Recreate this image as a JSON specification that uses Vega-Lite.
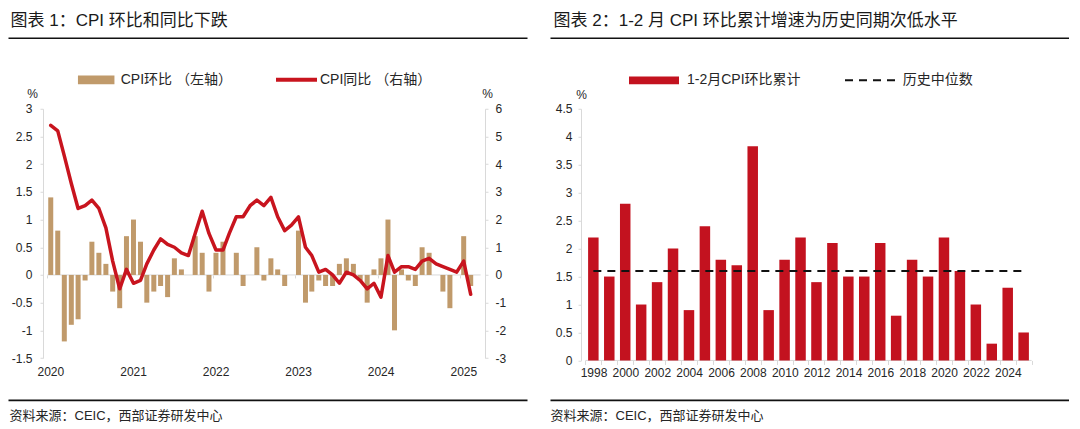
{
  "$schema": "https://vega.github.io/schema/vega-lite/v6.json",
  "padding": {"left": 8, "top": 10.75, "right": 0, "bottom": 0},
  "spacing": 23,
  "resolve": {
    "scale": {"fill": "independent", "stroke": "independent"},
    "legend": {"fill": "independent", "stroke": "independent"}
  },
  "config": {
    "font": "Liberation Sans, Noto Sans CJK SC, sans-serif",
    "view": {"stroke": null},
    "axis": {
      "labelFont": "Liberation Sans, Noto Sans CJK SC, sans-serif",
      "titleFont": "Liberation Sans, Noto Sans CJK SC, sans-serif",
      "labelFontSize": 12,
      "labelColor": "#262626",
      "domainColor": "#d9d9d9",
      "tickColor": "#d9d9d9",
      "titleFontWeight": "normal",
      "titleColor": "#262626",
      "grid": false
    },
    "legend": {
      "labelFont": "Liberation Sans, Noto Sans CJK SC, sans-serif",
      "labelFontSize": 14,
      "labelColor": "#262626",
      "padding": 0
    }
  },
  "hconcat": [
    {
      "width": 519,
      "height": 249.3,
      "data": {
        "values": [
          {"month": "2020-01", "mom": 1.4, "yoy": 5.4},
          {"month": "2020-02", "mom": 0.8, "yoy": 5.2},
          {"month": "2020-03", "mom": -1.2, "yoy": 4.3},
          {"month": "2020-04", "mom": -0.9, "yoy": 3.3},
          {"month": "2020-05", "mom": -0.8, "yoy": 2.4},
          {"month": "2020-06", "mom": -0.1, "yoy": 2.5},
          {"month": "2020-07", "mom": 0.6, "yoy": 2.7},
          {"month": "2020-08", "mom": 0.4, "yoy": 2.4},
          {"month": "2020-09", "mom": 0.2, "yoy": 1.7},
          {"month": "2020-10", "mom": -0.3, "yoy": 0.5},
          {"month": "2020-11", "mom": -0.6, "yoy": -0.5},
          {"month": "2020-12", "mom": 0.7, "yoy": 0.2},
          {"month": "2021-01", "mom": 1.0, "yoy": -0.3},
          {"month": "2021-02", "mom": 0.6, "yoy": -0.2},
          {"month": "2021-03", "mom": -0.5, "yoy": 0.4},
          {"month": "2021-04", "mom": -0.3, "yoy": 0.9},
          {"month": "2021-05", "mom": -0.2, "yoy": 1.3},
          {"month": "2021-06", "mom": -0.4, "yoy": 1.1},
          {"month": "2021-07", "mom": 0.3, "yoy": 1.0},
          {"month": "2021-08", "mom": 0.1, "yoy": 0.8},
          {"month": "2021-09", "mom": 0.0, "yoy": 0.7},
          {"month": "2021-10", "mom": 0.7, "yoy": 1.5},
          {"month": "2021-11", "mom": 0.4, "yoy": 2.3},
          {"month": "2021-12", "mom": -0.3, "yoy": 1.5},
          {"month": "2022-01", "mom": 0.4, "yoy": 0.9},
          {"month": "2022-02", "mom": 0.6, "yoy": 0.9},
          {"month": "2022-03", "mom": 0.0, "yoy": 1.5},
          {"month": "2022-04", "mom": 0.4, "yoy": 2.1},
          {"month": "2022-05", "mom": -0.2, "yoy": 2.1},
          {"month": "2022-06", "mom": 0.0, "yoy": 2.5},
          {"month": "2022-07", "mom": 0.5, "yoy": 2.7},
          {"month": "2022-08", "mom": -0.1, "yoy": 2.5},
          {"month": "2022-09", "mom": 0.3, "yoy": 2.8},
          {"month": "2022-10", "mom": 0.1, "yoy": 2.1},
          {"month": "2022-11", "mom": -0.2, "yoy": 1.6},
          {"month": "2022-12", "mom": 0.0, "yoy": 1.8},
          {"month": "2023-01", "mom": 0.8, "yoy": 2.1},
          {"month": "2023-02", "mom": -0.5, "yoy": 1.0},
          {"month": "2023-03", "mom": -0.3, "yoy": 0.7},
          {"month": "2023-04", "mom": -0.1, "yoy": 0.1},
          {"month": "2023-05", "mom": -0.2, "yoy": 0.2},
          {"month": "2023-06", "mom": -0.2, "yoy": 0.0},
          {"month": "2023-07", "mom": 0.2, "yoy": -0.3},
          {"month": "2023-08", "mom": 0.3, "yoy": 0.1},
          {"month": "2023-09", "mom": 0.2, "yoy": 0.0},
          {"month": "2023-10", "mom": -0.1, "yoy": -0.2},
          {"month": "2023-11", "mom": -0.5, "yoy": -0.5},
          {"month": "2023-12", "mom": 0.1, "yoy": -0.3},
          {"month": "2024-01", "mom": 0.3, "yoy": -0.8},
          {"month": "2024-02", "mom": 1.0, "yoy": 0.7},
          {"month": "2024-03", "mom": -1.0, "yoy": 0.1},
          {"month": "2024-04", "mom": 0.1, "yoy": 0.3},
          {"month": "2024-05", "mom": -0.1, "yoy": 0.3},
          {"month": "2024-06", "mom": -0.2, "yoy": 0.2},
          {"month": "2024-07", "mom": 0.5, "yoy": 0.5},
          {"month": "2024-08", "mom": 0.4, "yoy": 0.6},
          {"month": "2024-09", "mom": 0.0, "yoy": 0.4},
          {"month": "2024-10", "mom": -0.3, "yoy": 0.3},
          {"month": "2024-11", "mom": -0.6, "yoy": 0.2},
          {"month": "2024-12", "mom": 0.0, "yoy": 0.1},
          {"month": "2025-01", "mom": 0.7, "yoy": 0.5},
          {"month": "2025-02", "mom": -0.2, "yoy": -0.7}
        ]
      },
      "resolve": {
        "scale": {"y": "independent"},
        "axis": {"x": "independent", "y": "independent"}
      },
      "layer": [
        {
          "data": {"values": [{}]},
          "mark": {"type": "rule", "color": "#d9d9d9", "strokeWidth": 1},
          "encoding": {
            "x": {
              "datum": {"year": 2019, "month": 12, "date": 17, "utc": true},
              "type": "temporal",
              "scale": {"type": "utc", "domain": [{"year": 2019, "month": 7, "date": 18, "utc": true}, {"year": 2025, "month": 9, "date": 16, "utc": true}], "nice": false},
              "axis": {
                "orient": "bottom",
                "offset": 41.8,
                "domain": true,
                "domainColor": "#111111",
                "domainWidth": 1.6,
                "ticks": false,
                "labels": false,
                "grid": false,
                "title": "资料来源：CEIC，西部证券研发中心",
                "titleFontSize": 13,
                "titleX": 1,
                "titleY": 16,
                "titleAlign": "left",
                "titleBaseline": "middle"
              }
            },
            "x2": {"datum": {"year": 2025, "month": 3, "date": 17, "utc": true}},
            "y": {"datum": 0, "type": "quantitative", "scale": {"domain": [-1.5, 3], "nice": false, "zero": false}, "axis": null}
          }
        },
        {
          "mark": {"type": "bar", "width": 5},
          "encoding": {
            "x": {
              "field": "month",
              "type": "temporal",
              "scale": {"type": "utc", "domain": [{"year": 2019, "month": 7, "date": 18, "utc": true}, {"year": 2025, "month": 9, "date": 16, "utc": true}], "nice": false},
              "axis": {
                "orient": "bottom",
                "offset": -83.1,
                "values": [
                  {"year": 2019, "month": 12, "date": 17, "utc": true},
                  {"year": 2020, "month": 12, "date": 17, "utc": true},
                  {"year": 2021, "month": 12, "date": 17, "utc": true},
                  {"year": 2022, "month": 12, "date": 17, "utc": true},
                  {"year": 2023, "month": 12, "date": 17, "utc": true},
                  {"year": 2024, "month": 12, "date": 17, "utc": true}
                ],
                "labelExpr": "'' + (utcyear(datum.value) + 1)",
                "labelOffset": 3,
                "labelAngle": 0,
                "labelFlush": false,
                "labelOverlap": false,
                "domain": false,
                "ticks": true,
                "tickSize": 3,
                "labelPadding": 88.6,
                "grid": false,
                "title": null
              }
            },
            "y": {
              "field": "mom",
              "type": "quantitative",
              "scale": {"domain": [-1.5, 3], "nice": false, "zero": false},
              "axis": {
                "orient": "left",
                "offset": -35,
                "values": [-1.5, -1, -0.5, 0, 0.5, 1, 1.5, 2, 2.5, 3],
                "labelExpr": "'' + datum.value",
                "tickSize": 3,
                "labelPadding": 8,
                "title": "%",
                "titleAngle": 0,
                "titleX": -11,
                "titleY": -15.4,
                "titleAlign": "center",
                "titleBaseline": "middle",
                "titleFontSize": 12
              }
            },
            "y2": {"datum": 0},
            "fill": {
              "datum": "CPI环比 （左轴）",
              "type": "nominal",
              "scale": {"range": ["#c09a6b"]},
              "legend": {
                "orient": "none",
                "legendX": 69.7,
                "legendY": -47.3,
                "title": null,
                "symbolType": "M-1,-0.24H1V0.24H-1Z",
                "symbolSize": 1332,
                "symbolStrokeWidth": 0,
                "labelOffset": 6
              }
            }
          }
        },
        {
          "mark": {"type": "line", "strokeWidth": 3.5, "strokeJoin": "round", "strokeCap": "round"},
          "encoding": {
            "x": {
              "field": "month",
              "type": "temporal",
              "scale": {"type": "utc", "domain": [{"year": 2019, "month": 7, "date": 18, "utc": true}, {"year": 2025, "month": 9, "date": 16, "utc": true}], "nice": false},
              "axis": {
                "orient": "top",
                "offset": 71,
                "domain": true,
                "domainColor": "#111111",
                "domainWidth": 1.6,
                "ticks": false,
                "labels": false,
                "grid": false,
                "title": "图表 1：CPI 环比和同比下跌",
                "titleFontSize": 17,
                "titleColor": "#1a1a1a",
                "titleX": 2,
                "titleY": -17.4,
                "titleAlign": "left",
                "titleBaseline": "middle"
              }
            },
            "y": {
              "field": "yoy",
              "type": "quantitative",
              "scale": {"domain": [-3, 6], "nice": false, "zero": false},
              "axis": {
                "orient": "right",
                "offset": -42,
                "values": [-3, -2, -1, 0, 1, 2, 3, 4, 5, 6],
                "labelExpr": "'' + datum.value",
                "tickSize": 3,
                "labelPadding": 7,
                "title": "%",
                "titleAngle": 0,
                "titleX": 2,
                "titleY": -15.6,
                "titleAlign": "center",
                "titleBaseline": "middle",
                "titleFontSize": 12
              }
            },
            "stroke": {
              "datum": "CPI同比 （右轴）",
              "type": "nominal",
              "scale": {"range": ["#c8141e"]},
              "legend": {
                "orient": "none",
                "legendX": 266,
                "legendY": -51.6,
                "title": null,
                "symbolType": "stroke",
                "symbolSize": 1681,
                "symbolStrokeWidth": 4,
                "labelOffset": 1
              }
            }
          }
        }
      ]
    },
    {
      "width": 519,
      "height": 251.7,
      "data": {
        "values": [
          {"year": 1998, "value": 2.2, "median": 1.6},
          {"year": 1999, "value": 1.5, "median": 1.6},
          {"year": 2000, "value": 2.8, "median": 1.6},
          {"year": 2001, "value": 1.0, "median": 1.6},
          {"year": 2002, "value": 1.4, "median": 1.6},
          {"year": 2003, "value": 2.0, "median": 1.6},
          {"year": 2004, "value": 0.9, "median": 1.6},
          {"year": 2005, "value": 2.4, "median": 1.6},
          {"year": 2006, "value": 1.8, "median": 1.6},
          {"year": 2007, "value": 1.7, "median": 1.6},
          {"year": 2008, "value": 3.83, "median": 1.6},
          {"year": 2009, "value": 0.9, "median": 1.6},
          {"year": 2010, "value": 1.8, "median": 1.6},
          {"year": 2011, "value": 2.2, "median": 1.6},
          {"year": 2012, "value": 1.4, "median": 1.6},
          {"year": 2013, "value": 2.1, "median": 1.6},
          {"year": 2014, "value": 1.5, "median": 1.6},
          {"year": 2015, "value": 1.5, "median": 1.6},
          {"year": 2016, "value": 2.1, "median": 1.6},
          {"year": 2017, "value": 0.8, "median": 1.6},
          {"year": 2018, "value": 1.8, "median": 1.6},
          {"year": 2019, "value": 1.5, "median": 1.6},
          {"year": 2020, "value": 2.2, "median": 1.6},
          {"year": 2021, "value": 1.6, "median": 1.6},
          {"year": 2022, "value": 1.0, "median": 1.6},
          {"year": 2023, "value": 0.3, "median": 1.6},
          {"year": 2024, "value": 1.3, "median": 1.6},
          {"year": 2025, "value": 0.5, "median": 1.6}
        ]
      },
      "resolve": {
        "axis": {"x": "independent", "y": "independent"}
      },
      "layer": [
        {
          "data": {"values": [{}]},
          "mark": {"type": "rule", "color": "#d9d9d9", "strokeWidth": 1},
          "encoding": {
            "x": {
              "datum": 1997.5,
              "type": "quantitative",
              "scale": {"domain": [1995.594, 2027.532], "nice": false, "zero": false},
              "axis": {
                "orient": "bottom",
                "offset": 39.4,
                "domain": true,
                "domainColor": "#111111",
                "domainWidth": 1.6,
                "ticks": false,
                "labels": false,
                "grid": false,
                "title": "资料来源：CEIC，西部证券研发中心",
                "titleFontSize": 13,
                "titleX": 0,
                "titleY": 16,
                "titleAlign": "left",
                "titleBaseline": "middle"
              }
            },
            "x2": {"datum": 2025.5},
            "y": {"datum": 0, "type": "quantitative", "scale": {"domain": [0, 4.5], "nice": false}, "axis": null}
          }
        },
        {
          "mark": {"type": "bar", "width": 10.5},
          "encoding": {
            "x": {
              "field": "year",
              "type": "quantitative",
              "scale": {"domain": [1995.594, 2027.532], "nice": false, "zero": false},
              "axis": {
                "orient": "bottom",
                "offset": 0,
                "values": [1997.5, 1998.5, 1999.5, 2000.5, 2001.5, 2002.5, 2003.5, 2004.5, 2005.5, 2006.5, 2007.5, 2008.5, 2009.5, 2010.5, 2011.5, 2012.5, 2013.5, 2014.5, 2015.5, 2016.5, 2017.5, 2018.5, 2019.5, 2020.5, 2021.5, 2022.5, 2023.5, 2024.5, 2025.5],
                "labelExpr": "(datum.value + 0.5) % 2 == 0 && datum.value < 2025 ? '' + (datum.value + 0.5) : ''",
                "labelOffset": 8.1,
                "domain": false,
                "ticks": true,
                "tickSize": 4,
                "labelPadding": 3,
                "labelAngle": 0,
                "labelFlush": false,
                "labelOverlap": false,
                "grid": false,
                "title": null
              }
            },
            "y": {
              "field": "value",
              "type": "quantitative",
              "scale": {"domain": [0, 4.5], "nice": false},
              "axis": {
                "orient": "left",
                "offset": -31,
                "values": [0, 0.5, 1, 1.5, 2, 2.5, 3, 3.5, 4, 4.5],
                "labelExpr": "'' + datum.value",
                "tickSize": 3,
                "labelPadding": 6,
                "title": "%",
                "titleAngle": 0,
                "titleX": 0,
                "titleY": -14.7,
                "titleAlign": "center",
                "titleBaseline": "middle",
                "titleFontSize": 12
              }
            },
            "fill": {
              "datum": "1-2月CPI环比累计",
              "type": "nominal",
              "scale": {"range": ["#c3121f"]},
              "legend": {
                "orient": "none",
                "legendX": 79,
                "legendY": -53.4,
                "title": null,
                "symbolType": "M-1,-0.155H1V0.155H-1Z",
                "symbolSize": 2500,
                "symbolStrokeWidth": 0,
                "labelOffset": 8
              }
            }
          }
        },
        {
          "mark": {"type": "line", "strokeWidth": 2, "strokeDash": [8, 6]},
          "encoding": {
            "x": {
              "field": "year",
              "type": "quantitative",
              "scale": {"domain": [1995.594, 2027.532], "nice": false, "zero": false},
              "axis": {
                "orient": "top",
                "offset": 71,
                "domain": true,
                "domainColor": "#111111",
                "domainWidth": 1.6,
                "ticks": false,
                "labels": false,
                "grid": false,
                "title": "图表 2：1-2 月 CPI 环比累计增速为历史同期次低水平",
                "titleFontSize": 17,
                "titleColor": "#1a1a1a",
                "titleX": 3,
                "titleY": -17.4,
                "titleAlign": "left",
                "titleBaseline": "middle"
              }
            },
            "y": {"field": "median", "type": "quantitative", "scale": {"domain": [0, 4.5], "nice": false}, "axis": null},
            "stroke": {
              "datum": "历史中位数",
              "type": "nominal",
              "scale": {"range": ["#111111"]},
              "legend": {
                "orient": "none",
                "legendX": 294,
                "legendY": -54.4,
                "title": null,
                "symbolType": "stroke",
                "symbolSize": 2500,
                "symbolStrokeWidth": 2,
                "symbolDash": [8, 6],
                "labelOffset": 6.7
              }
            }
          }
        }
      ]
    }
  ]
}
